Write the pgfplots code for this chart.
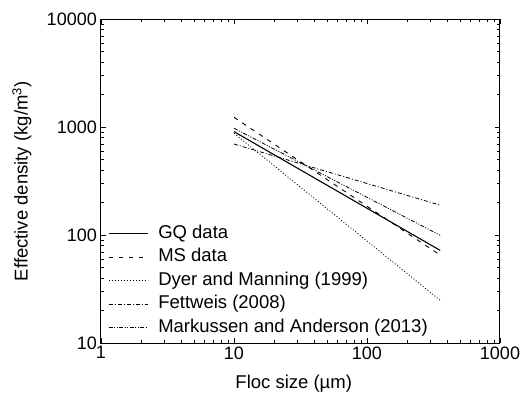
\documentclass[border=0pt]{standalone}
\usepackage{fontspec}
\setmainfont{Liberation Sans}
\usepackage{pgfplots}
\pgfplotsset{compat=1.18}
\begin{document}
\fontsize{18.5pt}{21pt}\selectfont
\begin{tikzpicture}
\begin{axis}[
  name=ax,
  scale only axis,
  width=399pt, height=324pt,
  xmode=log, ymode=log,
  xmin=1, xmax=1000, ymin=10, ymax=10000,
  xtick={1,10,100,1000}, xticklabels={1,10,100,1000},
  ytick={10,100,1000,10000}, yticklabels={10,100,1000,10000},
  tick align=inside,
  major tick length=5pt, minor tick length=3pt,
  axis line style={line width=1pt},
  every tick/.style={line width=0.8pt, black},
  tick label style={font=\fontsize{18pt}{21pt}\selectfont},
  xticklabel style={inner sep=3pt},
  yticklabel style={inner sep=4pt},
  /pgf/number format/assume math mode=true,
  xlabel={Floc size (µm)},
  ylabel={Effective density (kg/m\textsuperscript{3})},
  xlabel style={at={(axis description cs:0.483,-0.126)}, anchor=center},
  ylabel style={at={(axis description cs:-0.198,0.5)}, anchor=center},
  legend cell align=left,
  legend image code/.code={\draw[#1] (0pt,0pt) -- (39pt,0pt);},
  legend style={at={(axis description cs:0.0175,0.021)}, anchor=south west,
    draw=none, fill=none, inner xsep=0pt, inner ysep=0pt, row sep=6pt,
    nodes={inner sep=0pt, text height=13.5pt, text depth=4pt},
    /tikz/every odd column/.append style={column sep=10pt}},
]
\addplot[black, line width=1.1pt] coordinates {(10,912) (355,72.5)};
\addlegendentry{GQ data}
\addplot[black, line width=0.9pt, dash pattern=on 4.5pt off 5.5pt] coordinates {(10,1238) (355,65.5)};
\addlegendentry{MS data}
\addplot[black, line width=0.8pt, dash pattern=on 1pt off 2pt] coordinates {(10,880) (355,25)};
\addlegendentry{Dyer and Manning (1999)}
\addplot[black, line width=0.8pt, dash pattern=on 4pt off 2pt on 1pt off 2pt] coordinates {(10,700) (355,190)};
\addlegendentry{Fettweis (2008)}
\addplot[black, line width=0.8pt, dash pattern=on 4pt off 1.5pt on 1pt off 1.5pt on 1pt off 1.5pt] coordinates {(10,980) (355,100)};
\addlegendentry{Markussen and Anderson (2013)}
\end{axis}
\useasboundingbox ([shift={(-101pt,-55.7pt)}]ax.south west) rectangle ([shift={(26pt,19.3pt)}]ax.north east);
\end{tikzpicture}
\end{document}
